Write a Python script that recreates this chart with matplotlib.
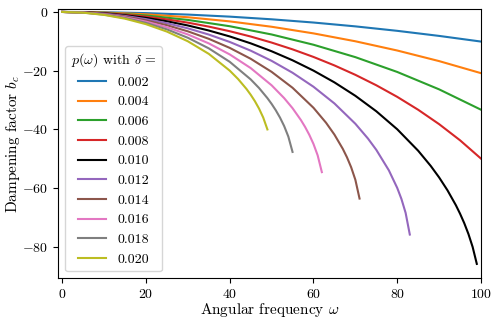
import numpy as np
import matplotlib
matplotlib.use("Agg")
import matplotlib.pyplot as plt

plt.rcParams['font.family'] = 'serif'
plt.rcParams['font.serif'] = ['cmr10']
plt.rcParams['mathtext.fontset'] = 'cm'
plt.rcParams['axes.formatter.use_mathtext'] = True
plt.rcParams['font.size'] = 10

# values, one (omega, b_c) list per delta
deltas = ['0.002', '0.004', '0.006', '0.008', '0.010',
          '0.012', '0.014', '0.016', '0.018', '0.020']
colors = ['C0', 'C1', 'C2', 'C3', 'black', 'C4', 'C5', 'C6', 'C7', 'C8']

w_002 = [0, 10, 20, 30, 40, 50, 60, 70, 80, 90, 100]
b_002 = [0, -0.10, -0.40, -0.90, -1.60, -2.51, -3.61, -4.92, -6.44, -8.17, -10.10]

w_004 = [0, 10, 20, 30, 40, 50, 60, 70, 80, 90, 100]
b_004 = [0, -0.20, -0.80, -1.81, -3.22, -5.05, -7.31, -10.00, -13.15, -16.76, -20.87]

w_006 = [0, 10, 20, 30, 40, 50, 60, 70, 80, 90, 100]
b_006 = [0, -0.30, -1.20, -2.72, -4.87, -7.68, -11.18, -15.41, -20.46, -26.39, -33.33]

w_008 = [0, 5, 10, 15, 20, 25, 30, 35, 40, 45, 50, 55, 60, 65, 70, 75, 80, 85, 90, 95, 100]
b_008 = [0, -0.10, -0.40, -0.90, -1.61, -2.53, -3.65, -5.00, -6.57, -8.38, -10.44,
         -12.75, -15.34, -18.23, -21.44, -25.00, -28.95, -33.35, -38.25, -43.76, -50.00]

w_010 = [0, 5, 10, 15, 20, 25, 30, 35, 40, 45, 50, 55, 60, 65, 70, 75, 80, 85, 88,
         90, 92, 94, 95, 96, 97, 98, 99]
b_010 = [0, -0.13, -0.50, -1.13, -2.02, -3.18, -4.61, -6.33, -8.35, -10.70, -13.40,
         -16.48, -20.00, -24.01, -28.59, -33.86, -40.00, -47.32, -52.50,
         -56.41, -60.81, -65.88, -68.78, -72.00, -75.69, -80.10, -85.89]

w_012 = [0, 5, 10, 15, 20, 25, 30, 35, 40, 45, 50, 55, 60, 65, 70, 73, 75, 78, 80, 81, 82, 83]
b_012 = [0, -0.15, -0.60, -1.36, -2.44, -3.84, -5.59, -7.71, -10.23, -13.19, -16.67,
         -20.73, -25.50, -31.19, -38.12, -43.14, -47.01, -54.00, -60.00, -63.75, -68.49, -75.89]

w_014 = [0, 5, 10, 15, 20, 25, 30, 35, 40, 45, 50, 55, 60, 63, 65, 67, 68, 69, 70, 71]
b_014 = [0, -0.18, -0.70, -1.59, -2.86, -4.52, -6.61, -9.16, -12.25, -15.96, -20.42,
         -25.85, -32.67, -37.77, -41.81, -46.67, -49.56, -52.96, -57.21, -63.62]

w_016 = [0, 5, 10, 15, 20, 25, 30, 35, 40, 45, 50, 53, 55, 57, 58, 59, 60, 61, 62]
b_016 = [0, -0.20, -0.81, -1.83, -3.29, -5.22, -7.67, -10.72, -14.48, -19.13, -25.00,
         -29.38, -32.81, -36.86, -39.21, -41.88, -45.00, -48.89, -54.61]

w_018 = [0, 5, 10, 15, 20, 25, 30, 35, 40, 45, 47, 49, 50, 51, 52, 53, 54, 55]
b_018 = [0, -0.23, -0.91, -2.06, -3.72, -5.94, -8.80, -12.41, -17.00, -22.98,
         -25.93, -29.38, -31.34, -33.52, -36.00, -38.90, -42.50, -47.72]

w_020 = [0, 5, 10, 15, 20, 25, 30, 35, 40, 42, 44, 45, 46, 47, 48, 49]
b_020 = [0, -0.25, -1.01, -2.30, -4.17, -6.70, -10.00, -14.29, -20.00,
         -22.87, -26.25, -28.21, -30.40, -32.94, -36.00, -40.05]

omegas = [w_002, w_004, w_006, w_008, w_010, w_012, w_014, w_016, w_018, w_020]
dampings = [b_002, b_004, b_006, b_008, b_010, b_012, b_014, b_016, b_018, b_020]

fig, ax = plt.subplots(figsize=(4.98, 3.25), dpi=100)
fig.subplots_adjust(left=58/498, right=481/498, top=1-9.3/325, bottom=1-278.3/325)

for w, b, c, lab in zip(omegas, dampings, colors, deltas):
    ax.plot(w, b, color=c, lw=1.5, label=lab)

ax.set_xlim(-1, 100)
ax.set_ylim(-90.8, 0.9)
ax.set_xticks([0, 20, 40, 60, 80, 100])
ax.set_yticks([0, -20, -40, -60, -80])
ax.set_xlabel(r'Angular frequency $\omega$', fontsize=11, labelpad=0)
ax.set_ylabel(r'Dampening factor $b_c$', fontsize=11, labelpad=0)
ax.legend(title=r'$p(\omega)$ with $\delta$ =', loc='lower left', fontsize=10, title_fontsize=10)

fig.savefig('out.png', dpi=100)
